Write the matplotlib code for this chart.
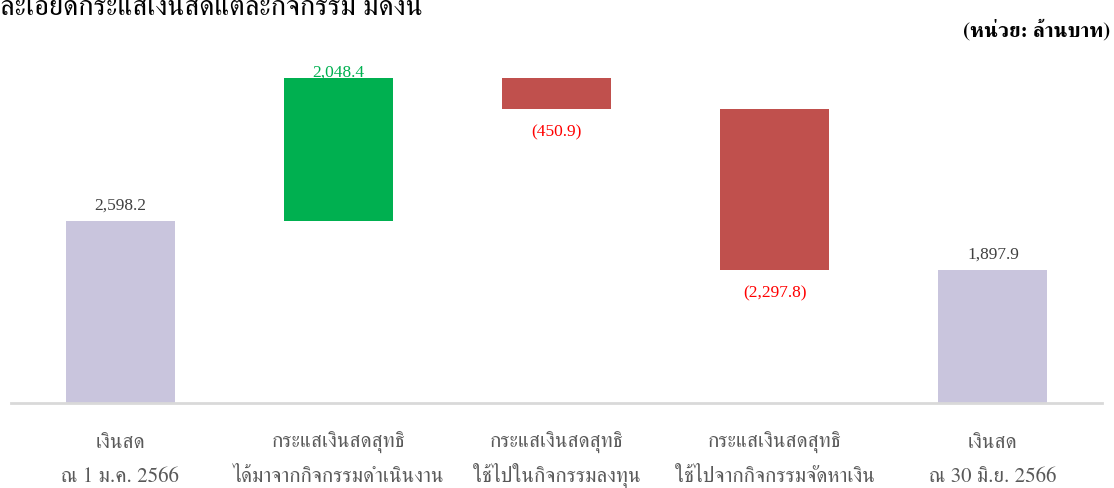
import matplotlib
matplotlib.use("Agg")
import matplotlib.pyplot as plt
from matplotlib.transforms import blended_transform_factory

# ---- data ----
categories = [
    "เงินสด\nณ 1 ม.ค. 2566",
    "กระแสเงินสดสุทธิ\nได้มาจากกิจกรรมดำเนินงาน",
    "กระแสเงินสดสุทธิ\nใช้ไปในกิจกรรมลงทุน",
    "กระแสเงินสดสุทธิ\nใช้ไปจากกิจกรรมจัดหาเงิน",
    "เงินสด\nณ 30 มิ.ย. 2566",
]
opening_cash = 2598.2
changes = [2048.4, -450.9, -2297.8]
closing_cash = 1897.9
value_labels = ["2,598.2", "2,048.4", "(450.9)", "(2,297.8)", "1,897.9"]
title_text = "ละเอียดกระแสเงินสดแต่ละกิจกรรม มีดังนี้"
unit_text = "(หน่วย: ล้านบาท)"

# ---- style ----
FONT = ["Liberation Serif", "FreeSerif"]
THAI = ["FreeSerif", "Liberation Serif"]
c_total = "#C9C5DD"
c_pos = "#00B050"
c_neg = "#C0504D"

W, H = 1114, 488
fig = plt.figure(figsize=(W / 100, H / 100), dpi=100)
ax = fig.add_axes([11 / W, 85 / H, 1091 / W, 350 / H])

x = list(range(len(categories)))
heights, bottoms, colors = [], [], []
heights.append(opening_cash); bottoms.append(0); colors.append(c_total)
run = opening_cash
for ch in changes:
    if ch >= 0:
        bottoms.append(run); heights.append(ch); colors.append(c_pos)
    else:
        bottoms.append(run + ch); heights.append(-ch); colors.append(c_neg)
    run += ch
heights.append(closing_cash); bottoms.append(0); colors.append(c_total)

ax.bar(x, heights, bottom=bottoms, width=0.5, color=colors, zorder=2)

ax.set_xlim(-0.5, 4.5)
ax.set_ylim(0, 5000)
for s in ["top", "right", "left"]:
    ax.spines[s].set_visible(False)
ax.spines["bottom"].set_color("#D9D9D9")
ax.spines["bottom"].set_linewidth(2)
ax.set_yticks([])
ax.set_xticks(x)
ax.set_xticklabels([""] * len(x))
ax.tick_params(axis="x", length=0)

# category labels, line by line (fixed baselines)
trans = blended_transform_factory(ax.transData, fig.transFigure)
line_baselines_px = [448, 482]
for i, cat in enumerate(categories):
    for j, line in enumerate(cat.split("\n")):
        ax.text(i, 1 - line_baselines_px[j] / H, line, transform=trans,
                ha="center", va="baseline", family=THAI, fontsize=15,
                color="#595959", clip_on=False)

# value labels
label_colors = ["#404040", c_pos, "#FF0000", "#FF0000", "#404040"]
vals = [opening_cash] + changes + [closing_cash]
for i, (v, lab, lc) in enumerate(zip(vals, value_labels, label_colors)):
    top = bottoms[i] + heights[i]
    if i == 0 or i == 4:
        ax.annotate(lab, (i, top), xytext=(0, 5.5), textcoords="offset points",
                    ha="center", va="bottom", family=FONT, fontsize=12.5, color=lc)
    elif v >= 0:
        ax.annotate(lab, (i, top), xytext=(0, -2), textcoords="offset points",
                    ha="center", va="bottom", family=FONT, fontsize=12.5, color=lc)
    else:
        ax.annotate(lab, (i, bottoms[i]), xytext=(0, -11), textcoords="offset points",
                    ha="center", va="top", family=FONT, fontsize=12.5, color=lc)

fig.text(0.0, 1 - 15 / H, title_text, ha="left", va="baseline", family=THAI,
         fontsize=20.5, color="#000000")
fig.text(1110 / W, 1 - 36 / H, unit_text, ha="right", va="baseline", family=THAI,
         fontsize=15, fontweight="bold", color="#000000")

fig.savefig("out.png", dpi=100)
